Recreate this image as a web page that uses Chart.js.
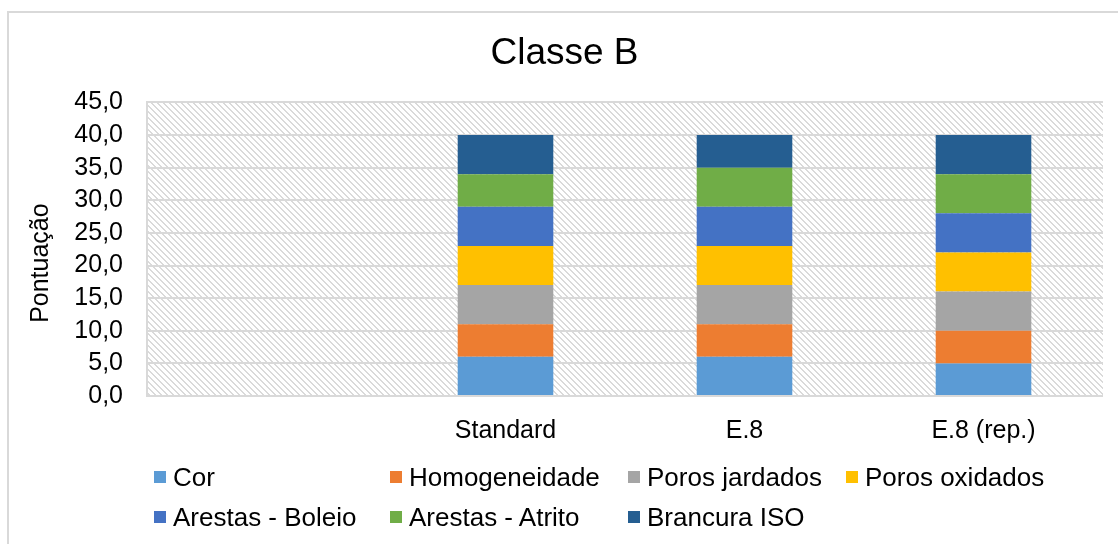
<!DOCTYPE html>
<html>
<head>
<meta charset="utf-8">
<script src="https://cdn.jsdelivr.net/npm/chart.js@4/dist/chart.umd.min.js"></script>
<style>
    html, body { margin: 0; padding: 0; background: #fff; }
    #wrap { position: relative; width: 1118px; height: 544px; overflow: hidden; }
    #frame {
        position: absolute; left: 7px; top: 11px; right: -10px; bottom: -10px;
        border-left: 2px solid #d9d9d9; border-top: 2px solid #d9d9d9;
    }
    #chart { position: absolute; left: 0; top: 0; }
    #legend {
        position: absolute; left: 0; top: 0; width: 1118px; height: 544px;
        font-family: "Liberation Sans", Arial, sans-serif; font-size: 26px; color: #000;
        pointer-events: none;
    }
    .item { position: absolute; display: flex; align-items: center; white-space: nowrap; height: 30px; }
    .item .box { width: 12px; height: 12px; margin-right: 7px; }
</style>
</head>
<body>
<div id="wrap">
    <div id="frame"></div>
    <canvas id="chart" width="1118" height="544"></canvas>
    <div id="legend"></div>
</div>
<script>
// Classe B - pontuação por critério
const categorias = ['', 'Standard', 'E.8', 'E.8 (rep.)'];

const cor = [null, 6, 6, 5];
const homogeneidade = [null, 5, 5, 5];
const porosJardados = [null, 6, 6, 6];
const porosOxidados = [null, 6, 6, 6];
const arestasBoleio = [null, 6, 6, 6];
const arestasAtrito = [null, 5, 6, 6];
const brancuraISO = [null, 6, 5, 6];

const yTicks = [0, 5, 10, 15, 20, 25, 30, 35, 40, 45];

const series = [
    { label: 'Cor', data: cor, color: '#5B9BD5' },
    { label: 'Homogeneidade', data: homogeneidade, color: '#ED7D31' },
    { label: 'Poros jardados', data: porosJardados, color: '#A5A5A5' },
    { label: 'Poros oxidados', data: porosOxidados, color: '#FFC000' },
    { label: 'Arestas - Boleio', data: arestasBoleio, color: '#4472C4' },
    { label: 'Arestas - Atrito', data: arestasAtrito, color: '#70AD47' },
    { label: 'Brancura ISO', data: brancuraISO, color: '#255E91' }
];

const FONT = '"Liberation Sans", Arial, sans-serif';

// diagonal hatch for the plot background
function makeHatch(ctx) {
    const c = document.createElement('canvas');
    c.width = 6;
    c.height = 6;
    const g = c.getContext('2d');
    g.fillStyle = '#ffffff';
    g.fillRect(0, 0, 6, 6);
    g.fillStyle = '#dadada';
    for (let i = 0; i < 6; i++) {
        g.fillRect(i, i, 1, 1);
        g.fillRect((i + 1) % 6, i, 1, 1);
    }
    return ctx.createPattern(c, 'repeat');
}

const hatchPlugin = {
    id: 'hatch',
    beforeDraw(chart) {
        const { ctx, chartArea } = chart;
        ctx.save();
        ctx.fillStyle = makeHatch(ctx);
        ctx.fillRect(chartArea.left, chartArea.top, chartArea.right - chartArea.left, chartArea.bottom - chartArea.top);
        ctx.restore();
    }
};

const ctx = document.getElementById('chart').getContext('2d');
const chart = new Chart(ctx, {
    type: 'bar',
    data: {
        labels: categorias,
        datasets: series.map(s => ({
            label: s.label,
            data: s.data,
            backgroundColor: s.color,
            borderWidth: 0,
            barPercentage: 0.4,
            categoryPercentage: 1
        }))
    },
    options: {
        responsive: false,
        animation: false,
        layout: { padding: { left: 26, right: 15, top: 0, bottom: 86 } },
        plugins: {
            legend: { display: false },
            tooltip: { enabled: false },
            title: {
                display: true,
                text: 'Classe B',
                color: '#000',
                font: { family: FONT, size: 37, weight: 'normal' },
                padding: { top: 32, bottom: 26 }
            }
        },
        scales: {
            x: {
                stacked: true,
                grid: { display: false },
                border: { display: false },
                ticks: {
                    color: '#000',
                    font: { family: FONT, size: 25 },
                    padding: 12,
                    maxRotation: 0
                }
            },
            y: {
                stacked: true,
                min: 0,
                max: 45,
                afterBuildTicks(scale) {
                    scale.ticks = yTicks.map(v => ({ value: v }));
                },
                afterFit(scale) {
                    scale.width = 121;
                },
                grid: { color: '#d9d9d9', lineWidth: 2, drawTicks: false },
                border: { display: true, color: '#d9d9d9', width: 2 },
                title: {
                    display: true,
                    // trailing spaces nudge the rotated label a little lower
                    text: 'Pontuação    ',
                    color: '#000',
                    font: { family: FONT, size: 25 },
                    padding: { top: 0, bottom: 4 }
                },
                ticks: {
                    color: '#000',
                    font: { family: FONT, size: 25 },
                    padding: 24,
                    autoSkip: false,
                    callback: v => v.toFixed(1).replace('.', ',')
                }
            }
        }
    },
    plugins: [hatchPlugin]
});

// legend laid out in fixed columns, two rows
const legendCols = [154, 390, 628, 846];
const legendRows = [477, 517];
const legend = document.getElementById('legend');
chart.data.datasets.forEach((ds, i) => {
    const item = document.createElement('div');
    item.className = 'item';
    item.style.left = legendCols[i % 4] + 'px';
    item.style.top = (legendRows[Math.floor(i / 4)] - 15) + 'px';
    item.innerHTML = '<span class="box" style="background:' + ds.backgroundColor + '"></span><span>' + ds.label + '</span>';
    legend.appendChild(item);
});
</script>
</body>
</html>
